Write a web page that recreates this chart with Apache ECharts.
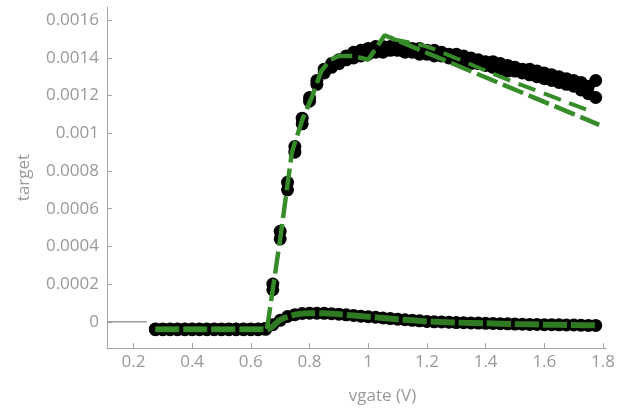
<!DOCTYPE html>
<html>
<head>
<meta charset="utf-8">
<script src="https://cdn.jsdelivr.net/npm/echarts@6/dist/echarts.min.js"></script>
<style>
  html, body { margin: 0; padding: 0; background: #fff; }
  #chart { width: 618px; height: 410px; }
</style>
</head>
<body>
<div id="chart"></div>
<script>
// Gate voltage sweep (V)
const vgate = [
  0.275, 0.300, 0.325, 0.350, 0.375, 0.400, 0.425, 0.450, 0.475, 0.500,
  0.525, 0.550, 0.575, 0.600, 0.625, 0.650, 0.675, 0.700, 0.725, 0.750,
  0.775, 0.800, 0.825, 0.850, 0.875, 0.900, 0.925, 0.950, 0.975, 1.000,
  1.025, 1.050, 1.075, 1.100, 1.125, 1.150, 1.175, 1.200, 1.225, 1.250,
  1.275, 1.300, 1.325, 1.350, 1.375, 1.400, 1.425, 1.450, 1.475, 1.500,
  1.525, 1.550, 1.575, 1.600, 1.625, 1.650, 1.675, 1.700, 1.725, 1.750,
  1.775
];

// Measured drain current, high drain bias (two sweeps)
const highSweepA = [
  -0.000042, -0.000042, -0.000042, -0.000042, -0.000042, -0.000042, -0.000042, -0.000042, -0.000042, -0.000042,
  -0.000042, -0.000042, -0.000042, -0.000042, -0.000042, -0.000040, 0.00017, 0.00044, 0.00070, 0.00090,
  0.00105, 0.00117, 0.00126, 0.00132, 0.00135, 0.00137, 0.00139, 0.00140, 0.00141, 0.00142,
  0.00143, 0.00143, 0.00144, 0.00144, 0.00143, 0.00143, 0.00142, 0.00142, 0.00141, 0.00141,
  0.00140, 0.00139, 0.00138, 0.00137, 0.00137, 0.00136, 0.00135, 0.00134, 0.00133, 0.00133,
  0.00132, 0.00131, 0.00130, 0.00129, 0.00128, 0.00127, 0.00126, 0.00125, 0.00123, 0.00121,
  0.00119
];
const highSweepB = [
  -0.000038, -0.000038, -0.000038, -0.000038, -0.000038, -0.000038, -0.000038, -0.000038, -0.000038, -0.000038,
  -0.000038, -0.000038, -0.000038, -0.000038, -0.000038, -0.000036, 0.00020, 0.00048, 0.00074, 0.00093,
  0.00108, 0.00119, 0.00128, 0.00134, 0.00137, 0.00139, 0.00141, 0.00143, 0.00144, 0.00145,
  0.00146, 0.00146, 0.00146, 0.00146, 0.00146, 0.00145, 0.00145, 0.00144, 0.00144, 0.00143,
  0.00142, 0.00142, 0.00141, 0.00140, 0.00139, 0.00138, 0.00138, 0.00137, 0.00136, 0.00135,
  0.00134, 0.00134, 0.00133, 0.00132, 0.00131, 0.00130, 0.00129, 0.00128, 0.00127, 0.00125,
  0.00128
];

// Measured drain current, low drain bias
const lowSweep = [
  -0.000040, -0.000040, -0.000040, -0.000040, -0.000040, -0.000040, -0.000040, -0.000040, -0.000040, -0.000040,
  -0.000040, -0.000040, -0.000040, -0.000040, -0.000040, -0.000036, -0.000015, 0.000008, 0.000028, 0.000038,
  0.000044, 0.000046, 0.000046, 0.000045, 0.000043, 0.000040, 0.000037, 0.000034, 0.000030, 0.000027,
  0.000024, 0.000020, 0.000017, 0.000014, 0.000011, 0.000008, 0.000005, 0.000002, 0.000000, -0.000001,
  -0.000002, -0.000004, -0.000005, -0.000006, -0.000007, -0.000008, -0.000009, -0.000010, -0.000011, -0.000012,
  -0.000013, -0.000014, -0.000014, -0.000015, -0.000015, -0.000016, -0.000017, -0.000017, -0.000018, -0.000019,
  -0.000019
];

// Model curves (vgate, current)
const highFitX = [0.275, 0.655, 0.700, 0.740, 0.775, 0.810, 0.840, 0.870, 0.900, 0.950, 1.000, 1.056, 1.787];
const highFitY = [-0.00004, -0.00004, 0.00044, 0.00090, 0.00107, 0.00120, 0.00133, 0.00139, 0.00141, 0.00141, 0.00139, 0.00152, 0.001045];
const satFitX = [1.08, 1.20, 1.45, 1.77];
const satFitY = [0.00150, 0.00146, 0.00130, 0.00111];
const lowFitX = [0.275, 0.655, 0.700, 0.750, 0.800, 0.850, 0.900, 1.000, 1.100, 1.200, 1.300, 1.400, 1.500, 1.600, 1.700, 1.780];
const lowFitY = [-0.00004, -0.00004, 0.00001, 0.000038, 0.000046, 0.000045, 0.00004, 0.000027, 0.000014, 0.000002, -0.000004, -0.000008, -0.000012, -0.000015, -0.000017, -0.000019];

// Short reference segment along zero current
const zeroRefX = [0.11, 0.245];
const zeroRefY = [0, 0];

// Axis ticks
const xTicks = [0.2, 0.4, 0.6, 0.8, 1, 1.2, 1.4, 1.6, 1.8];
const yTicks = [0, 0.0002, 0.0004, 0.0006, 0.0008, 0.001, 0.0012, 0.0014, 0.0016];

const pairs = (xs, ys) => xs.map((x, i) => [x, ys[i]]);

const axisGray = '#a6a6a6';
const labelGray = '#999999';
const font = '"Open Sans", "DejaVu Sans", sans-serif';
const fontSize = 17;

const chart = echarts.init(document.getElementById('chart'), null, { renderer: 'canvas' });

const dots = (name, ys) => ({
  name, type: 'scatter', data: pairs(vgate, ys),
  symbol: 'circle', symbolSize: 13,
  itemStyle: { color: '#000000', opacity: 1 },
  z: 2, silent: true, animation: false
});

chart.setOption({
  animation: false,
  grid: { left: 107, right: 8, top: 7, bottom: 59, containLabel: false },
  xAxis: {
    type: 'value', min: 0.11, max: 1.81,
    name: 'vgate (V)', nameLocation: 'middle', nameGap: 40,
    nameTextStyle: { color: labelGray, fontSize: fontSize, fontFamily: font, padding: [0, 0, 0, 52] },
    axisLine: { show: true, onZero: false, lineStyle: { color: axisGray, width: 1 } },
    axisTick: { show: true, inside: true, length: 5, customValues: xTicks, lineStyle: { color: axisGray } },
    axisLabel: { customValues: xTicks, color: labelGray, fontSize: fontSize, fontFamily: font, margin: 6,
      formatter: v => String(v) },
    splitLine: { show: false }
  },
  yAxis: {
    type: 'value', min: -0.000139, max: 0.00167,
    name: 'target', nameLocation: 'middle', nameGap: 74,
    nameTextStyle: { color: labelGray, fontSize: fontSize, fontFamily: font },
    axisLine: { show: true, onZero: false, lineStyle: { color: axisGray, width: 1 } },
    axisTick: { show: true, inside: true, length: 5, customValues: yTicks, lineStyle: { color: axisGray } },
    axisLabel: { customValues: yTicks, color: labelGray, fontSize: fontSize, fontFamily: font, margin: 8,
      formatter: v => String(v) },
    splitLine: { show: false }
  },
  series: [
    {
      name: 'zero', type: 'line', data: pairs(zeroRefX, zeroRefY), symbol: 'none',
      lineStyle: { color: '#9a9a9a', width: 1.5 }, z: 1, silent: true
    },
    dots('high sweep A', highSweepA),
    dots('high sweep B', highSweepB),
    dots('low sweep', lowSweep),
    {
      name: 'low fit', type: 'line', data: pairs(lowFitX, lowFitY), symbol: 'none', smooth: 0.3,
      lineStyle: { color: '#2f7a22', width: 6, type: [24, 4] }, z: 4, silent: true
    },
    {
      name: 'high fit', type: 'line', data: pairs(highFitX, highFitY), symbol: 'none',
      lineStyle: { color: '#358c28', width: 4.5, type: [22, 6] }, z: 5, silent: true
    },
    {
      name: 'saturation fit', type: 'line', data: pairs(satFitX, satFitY), symbol: 'none', smooth: 0.2,
      lineStyle: { color: '#358c28', width: 4, type: [18, 9] }, z: 5, silent: true
    }
  ]
});
</script>
</body>
</html>
